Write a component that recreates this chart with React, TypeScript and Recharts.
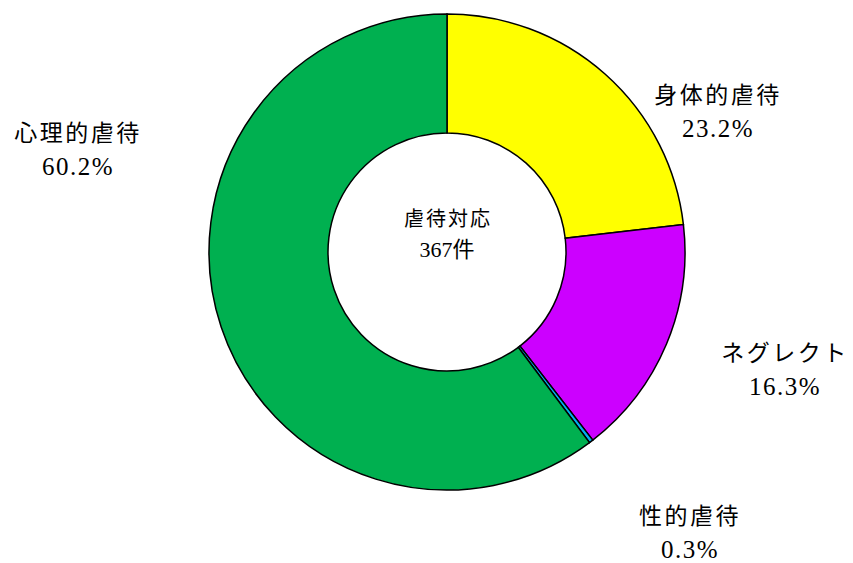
import * as React from "react"
import { Pie, PieChart, Cell } from "recharts"

const categories = ["身体的虐待", "ネグレクト", "性的虐待", "心理的虐待"]
const counts = [85, 60, 1, 221]
const percents = ["23.2%", "16.3%", "0.3%", "60.2%"]
const colors = ["#FFFF00", "#CC00FF", "#00B0F0", "#00B050"]
const centerTitle = "虐待対応"
const centerTotal = "367件"

// label centres, offset from the pie centre (Excel lays these out by hand)
const labelOffsets = [
  [270, -157],
  [337, 101],
  [242, 264],
  [-370, -119],
]

const W = 853
const H = 563
const CX = 447
const CY = 252
// no Mincho installed: serif digits, CJK falls back to Noto Sans CJK
const FONT = "'Liberation Serif', 'Noto Sans CJK JP', serif"

export default function App() {
  const data = categories.map((name, i) => ({ name, value: counts[i] }))

  return (
    <div style={{ position: "absolute", left: 0, top: 0, width: W, height: H, background: "#fff" }}>
      <PieChart width={W} height={H} margin={{ top: 0, right: 0, bottom: 0, left: 0 }}>
        <Pie
          data={data}
          dataKey="value"
          cx={CX}
          cy={CY}
          innerRadius={119}
          outerRadius={238}
          startAngle={90}
          endAngle={-270}
          stroke="#000"
          strokeWidth={1.5}
          isAnimationActive={false}
          labelLine={false}
          label={false}
        >
          {data.map((d, i) => (
            <Cell key={d.name} fill={colors[i]} />
          ))}
        </Pie>
        <g fontFamily={FONT} fill="#000">
          {categories.map((name, i) => (
            <text key={name} textAnchor="middle">
              <tspan
                x={CX + labelOffsets[i][0] + 1}
                y={CY + labelOffsets[i][1]}
                dy="0.35em"
                fontSize={23}
                letterSpacing={2.5}
              >
                {name}
              </tspan>
              <tspan
                x={CX + labelOffsets[i][0] + 1}
                y={CY + labelOffsets[i][1] + 33}
                dy="0.35em"
                fontSize={25}
                letterSpacing={1.5}
              >
                {percents[i]}
              </tspan>
            </text>
          ))}
          <text textAnchor="middle">
            <tspan x={CX + 1} y={CY - 33} dy="0.35em" fontSize={20} letterSpacing={2}>
              {centerTitle}
            </tspan>
            <tspan x={CX} y={CY - 3} dy="0.35em" fontSize={22}>
              {centerTotal}
            </tspan>
          </text>
        </g>
      </PieChart>
    </div>
  )
}
